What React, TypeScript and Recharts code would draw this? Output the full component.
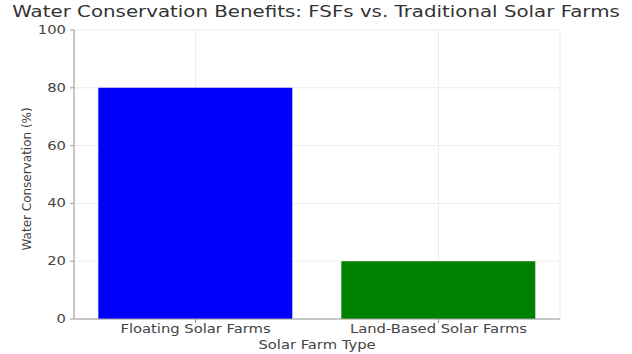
import React from "react";
import { BarChart, Bar, XAxis, YAxis, CartesianGrid, Cell } from "recharts";

const farmTypes = ["Floating Solar Farms", "Land-Based Solar Farms"];
const conservation = [80, 20];
const barColors = ["#0000ff", "#008000"];
const yTicks = [0, 20, 40, 60, 80, 100];

const font = "'DejaVu Sans', sans-serif";
// the reference text is a little wider than it is tall
const stretch = 1.23;

const data = farmTypes.map((type, i) => ({ type, value: conservation[i] }));

function XTick({ x, y, payload }: any) {
  return (
    <g transform={`translate(${x},${y + 8})`}>
      <text
        transform={`scale(${stretch} 1)`}
        textAnchor="middle"
        fontFamily={font}
        fontSize={12}
        fill="#444"
      >
        {payload.value}
      </text>
    </g>
  );
}

function YTick({ x, y, payload }: any) {
  return (
    <g transform={`translate(${x - 2},${y + 4})`}>
      <text
        transform={`scale(${stretch} 1)`}
        textAnchor="end"
        fontFamily={font}
        fontSize={12}
        fill="#444"
      >
        {payload.value}
      </text>
    </g>
  );
}

function XLabel({ viewBox }: any) {
  const { x, y, width } = viewBox;
  return (
    <g transform={`translate(${x + width / 2},${y + 30})`}>
      <text
        transform={`scale(${stretch} 1)`}
        textAnchor="middle"
        fontFamily={font}
        fontSize={12}
        fill="#444"
      >
        Solar Farm Type
      </text>
    </g>
  );
}

export default function App() {
  return (
    <div
      style={{
        position: "absolute",
        top: 0,
        left: 0,
        width: 632,
        height: 354,
        background: "#fff",
        fontFamily: font,
      }}
    >
      <div
        style={{
          position: "absolute",
          top: 2,
          left: 0,
          width: 632,
          textAlign: "center",
          fontSize: 16.5,
          color: "#333",
          whiteSpace: "nowrap",
          transform: "scaleX(1.2)",
          transformOrigin: "316px 0",
        }}
      >
        Water Conservation Benefits: FSFs vs. Traditional Solar Farms
      </div>
      <BarChart
        width={632}
        height={354}
        data={data}
        margin={{ top: 30, right: 72, left: 0, bottom: 0 }}
        barCategoryGap="10%"
      >
        <CartesianGrid stroke="#ececec" strokeWidth={1} />
        <XAxis
          dataKey="type"
          height={35}
          tick={<XTick />}
          tickSize={4}
          stroke="#999"
          label={<XLabel />}
        />
        <YAxis
          width={74}
          domain={[0, 100]}
          ticks={yTicks}
          tick={<YTick />}
          tickSize={4}
          stroke="#999"
          label={{
            value: "Water Conservation (%)",
            angle: -90,
            position: "insideLeft",
            offset: 27,
            dy: 76,
            style: { fontFamily: font, fontSize: 12, fill: "#444" },
          }}
        />
        <Bar dataKey="value" isAnimationActive={false}>
          {data.map((d, i) => (
            <Cell key={d.type} fill={barColors[i]} />
          ))}
        </Bar>
      </BarChart>
    </div>
  );
}
